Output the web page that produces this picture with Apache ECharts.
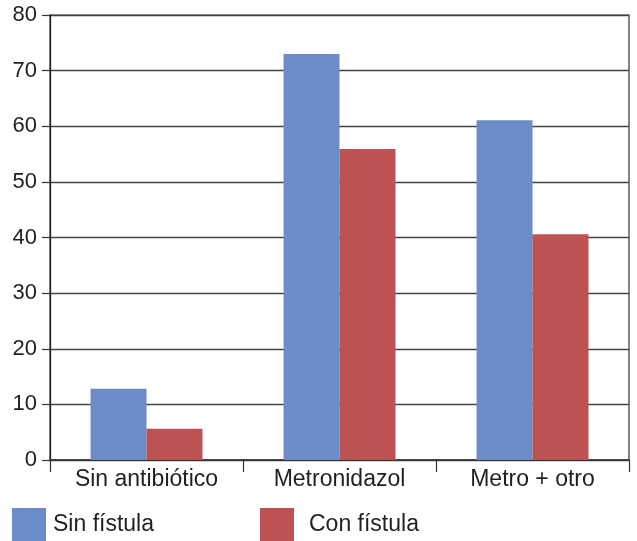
<!DOCTYPE html>
<html><head><meta charset="utf-8">
<script src="https://cdn.jsdelivr.net/npm/echarts@6/dist/echarts.min.js"></script>
<style>html,body{margin:0;padding:0;background:#fff}#c{width:637px;height:541px}</style>
</head><body><div id="c"></div>
<script>
const categories = ["Sin antibiótico", "Metronidazol", "Metro + otro"];
const sinFistula = [12.8, 73.0, 61.1];
const conFistula = [5.6, 55.9, 40.6];
const yTicks = [0, 10, 20, 30, 40, 50, 60, 70, 80];
const seriesNames = ["Sin fístula", "Con fístula"];

const FONT = "Liberation Sans, Arial, Helvetica, sans-serif";
const TXT = "#231f20";
const chart = echarts.init(document.getElementById('c'), null, {renderer: 'canvas'});
chart.setOption({
  animation: false,
  backgroundColor: '#fff',
  grid: {left: 50, right: 8, top: 15, bottom: 81, show: true, borderColor: '#333', borderWidth: 1.2, backgroundColor: 'transparent'},
  legend: [
    {data: [seriesNames[0]], left: 12, top: 508, itemWidth: 34, itemHeight: 34, icon: 'rect', padding: 0,
     textStyle: {fontFamily: FONT, fontSize: 23, color: TXT, padding: [0,0,0,2]}},
    {data: [seriesNames[1]], left: 260, top: 508, itemWidth: 34, itemHeight: 34, icon: 'rect', padding: 0,
     textStyle: {fontFamily: FONT, fontSize: 23, color: TXT, padding: [0,0,0,10]}}
  ],
  xAxis: {
    type: 'category', data: categories,
    axisLine: {lineStyle: {color: '#333', width: 1.5}},
    axisTick: {show: true, length: 12, alignWithLabel: false, lineStyle: {color: '#333', width: 1.2}},
    axisLabel: {fontFamily: FONT, fontSize: 23, color: TXT, margin: 8}
  },
  yAxis: {
    type: 'value', min: yTicks[0], max: yTicks[yTicks.length-1], interval: 10,
    axisLine: {show: true, lineStyle: {color: '#222', width: 1.3}},
    axisTick: {show: true, length: 8, lineStyle: {color: '#333', width: 1.2}},
    axisLabel: {fontFamily: FONT, fontSize: 22, color: TXT, margin: 13},
    splitLine: {show: true, lineStyle: {color: '#444', width: 1.3}}
  },
  series: [
    {name: seriesNames[0], type: 'bar', data: sinFistula, barGap: '0%', barCategoryGap: '42%', itemStyle: {color: '#6B8CC8'}},
    {name: seriesNames[1], type: 'bar', data: conFistula, barGap: '0%', barCategoryGap: '42%', itemStyle: {color: '#BC5252'}}
  ]
});
</script></body></html>
